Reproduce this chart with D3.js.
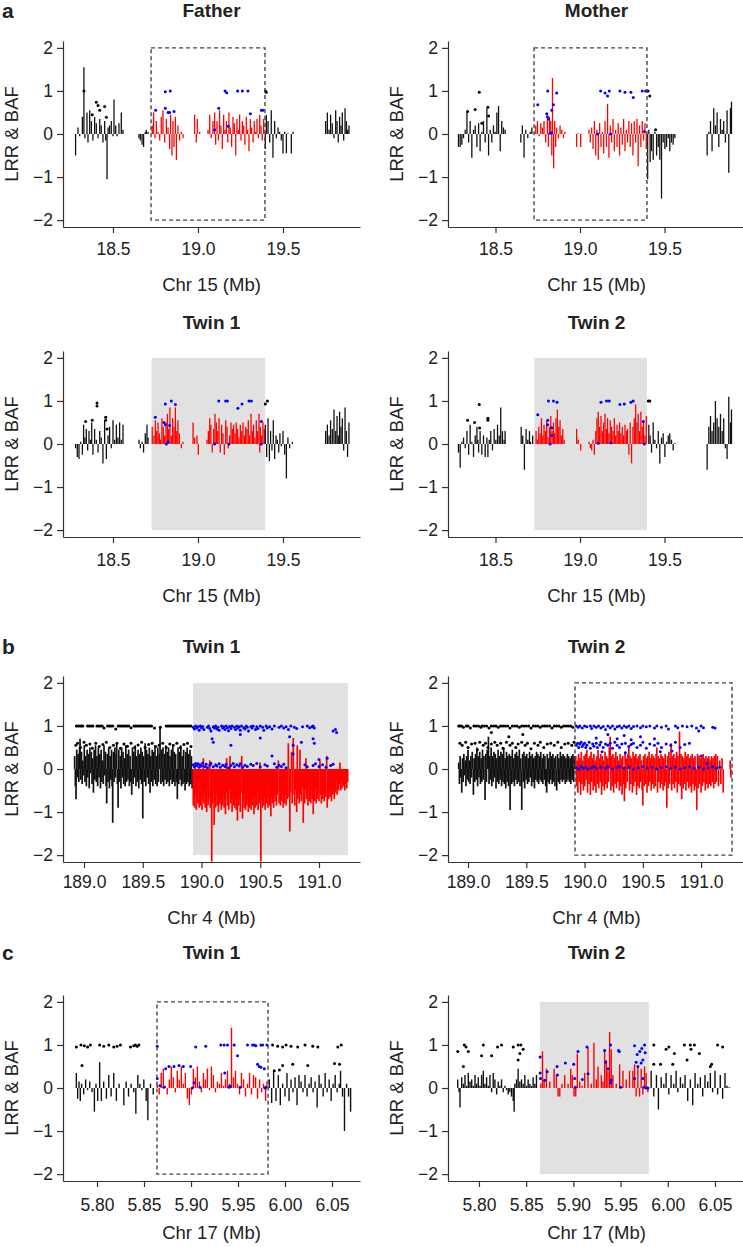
<!DOCTYPE html>
<html>
<head>
<meta charset="UTF-8">
<script src="https://d3js.org/d3.v7.min.js"></script>
<style>
  body { margin: 0; background: #fff; }
  svg text { font-family: "Liberation Sans", Arial, Helvetica, sans-serif; fill: #222; }
</style>
</head>
<body>
<svg width="743" height="1247"></svg>
<script>
// ---- data: [position (Mb), value] ----
const yTicks = [-2, -1, 0, 1, 2];
const ticksChr15 = [18.5, 19.0, 19.5];
const ticksChr4 = [189.0, 189.5, 190.0, 190.5, 191.0];
const ticksChr17 = [5.80, 5.85, 5.90, 5.95, 6.00, 6.05];

// highlighted regions (Mb)
const regionFather = [18.724, 19.394];
const regionMother = [18.728, 19.396];
const regionTwin1a = [18.727, 19.395];
const regionTwin2a = [18.729, 19.396];
const regionTwin1b = [189.928, 191.247];
const regionTwin2b = [189.918, 191.266];
const regionTwin1c = [5.8638, 5.982];
const regionTwin2c = [5.8646, 5.980];

const fatherLrr = [
[18.280,-0.5],[18.294,0.15],[18.304,-0.05],[18.320,0.4],[18.329,1.55],[18.335,-0.1],[18.347,0.5],[18.353,-0.2],[18.363,0.55],[18.373,0.3],[18.382,-0.15],[18.392,0.4],[18.402,0.25],[18.412,-0.1],[18.422,0.35],[18.431,0.2],[18.441,-0.2],[18.451,0.3],[18.457,-0.15],[18.465,-1.05],[18.471,0.15],[18.480,0.2],[18.490,0.3],[18.500,-0.05],[18.506,0.8],[18.516,0.2],[18.524,-0.05],[18.535,0.25],[18.549,0.5],[18.559,0.1],
[18.653,-0.1],[18.661,-0.15],[18.671,-0.25],[18.680,-0.3],[18.690,0.05],[18.696,0.1],[18.706,0.05],
[18.731,0.2],[18.739,0.5],[18.747,-0.1],[18.755,0.3],[18.765,0.05],[18.775,-0.15],[18.784,0.4],[18.794,0.55],[18.804,-0.2],[18.814,0.35],[18.824,0.15],[18.833,-0.35],[18.839,0.45],[18.847,-0.5],[18.853,0.3],[18.859,-0.3],[18.867,0.4],[18.873,-0.6],[18.882,0.2],[18.892,-0.15],[18.902,0.05],[18.912,-0.1],
[18.980,0.45],[18.990,-0.2],[18.996,0.35],[19.010,0.05],
[19.059,0.1],[19.069,0.45],[19.078,-0.1],[19.088,0.3],[19.098,0.5],[19.104,-0.25],
[19.112,0.3],[19.120,-0.15],[19.127,0.55],[19.135,0.2],[19.143,-0.35],[19.151,0.45],[19.159,0.1],[19.167,0.3],[19.175,-0.2],[19.182,0.5],[19.190,0.15],[19.198,-0.3],[19.206,0.4],[19.214,0.25],[19.222,-0.5],[19.229,0.35],[19.237,0.1],[19.245,0.45],[19.253,-0.15],[19.261,0.3],[19.269,0.2],[19.276,-0.25],[19.284,0.4],[19.292,0.1],[19.300,-0.4],[19.308,0.35],[19.316,0.15],[19.324,-0.2],[19.331,0.3],[19.339,0.05],[19.347,0.35],[19.355,-0.1],[19.363,0.45],[19.371,0.2],[19.378,-0.15],[19.386,0.35],
[19.396,-0.35],[19.402,0.45],[19.412,0.3],[19.422,-0.2],[19.431,0.55],[19.441,-0.55],[19.451,0.3],[19.461,-0.1],[19.471,0.15],[19.480,0.05],[19.490,-0.15],[19.500,-0.45],[19.510,0.05],[19.520,-0.45],[19.529,0.02],[19.549,-0.45],[19.559,0.05],
[19.751,0.3],[19.761,0.5],[19.771,0.1],[19.780,0.45],[19.790,0.25],[19.800,-0.1],[19.810,0.55],[19.818,0.3],[19.825,-0.2],[19.833,0.4],[19.841,0.2],[19.849,0.5],[19.857,-0.15],[19.865,0.6],[19.873,0.3],[19.880,0.1],[19.888,0.2]
];
const fatherBaf = [
[18.329,1.0],[18.402,0.74],[18.412,0.66],[18.422,0.55],[18.451,0.64],[18.461,0.39],[18.378,0.45],
[18.751,0.55],[18.808,0.98],[18.837,1.0],[18.808,0.6],[18.824,0.5],[18.833,0.5],[18.859,0.52],[19.098,0.1],[19.122,0.6],[19.159,1.0],[19.169,0.96],[19.178,0.18],[19.233,1.0],[19.261,1.0],[19.294,1.0],[19.308,0.47],[19.373,0.55],[19.382,0.55],
[19.396,1.0],[19.402,0.97]
];

const motherLrr = [
[18.281,-0.3],[18.291,-0.3],[18.301,-0.25],[18.311,-0.1],[18.321,0.1],[18.331,0.5],[18.341,-0.2],[18.350,0.3],[18.360,-0.55],[18.370,0.1],[18.380,0.2],[18.390,-0.3],[18.400,0.25],[18.409,-0.4],[18.419,0.05],[18.429,0.3],[18.439,-0.2],[18.449,0.6],[18.459,-0.5],[18.469,0.1],[18.478,-0.2],[18.488,0.2],[18.498,0.05],[18.508,0.5],[18.518,0.65],[18.528,-0.4],[18.537,0.3],[18.547,0.15],[18.557,0.1],
[18.650,-0.2],[18.659,0.2],[18.669,-0.55],[18.679,0.1],[18.691,-0.1],[18.705,0.05],[18.715,0.15],
[18.738,0.2],[18.748,0.3],[18.758,-0.05],[18.768,0.25],[18.778,0.15],[18.787,0.3],[18.797,-0.2],[18.807,0.35],[18.813,-0.3],[18.819,0.4],[18.827,0.3],[18.833,-0.5],[18.837,1.3],[18.844,-0.8],[18.850,0.3],[18.856,-0.3],[18.862,0.15],[18.872,-0.1],[18.882,0.2],[18.892,0.1],[18.902,-0.1],[18.911,0.05],
[18.980,-0.3],[18.990,0.02],[19.004,-0.3],
[19.053,0.1],[19.061,-0.2],[19.069,0.15],[19.077,-0.35],[19.085,0.3],[19.093,-0.5],[19.100,0.1],[19.108,-0.6],[19.116,0.25],[19.124,-0.3],[19.132,0.05],[19.140,-0.45],[19.148,0.3],[19.156,-0.3],[19.163,0.7],[19.171,-0.55],[19.179,0.2],[19.187,-0.2],[19.195,0.35],[19.203,-0.4],[19.211,0.1],[19.219,-0.3],[19.226,0.25],[19.234,-0.5],[19.242,0.15],[19.250,-0.25],[19.258,0.35],[19.266,-0.4],[19.274,0.1],[19.281,-0.2],[19.289,0.3],[19.297,-0.3],[19.305,0.25],[19.313,-0.5],[19.321,0.3],[19.329,-0.2],[19.337,0.35],[19.344,-0.75],[19.352,0.2],[19.360,-0.3],[19.368,0.3],[19.376,-0.15],[19.384,0.25],[19.392,-0.35],
[19.400,-1.05],[19.407,0.1],[19.415,-0.65],[19.423,-0.4],[19.433,-0.6],[19.443,0.05],[19.453,-0.5],[19.463,-0.3],[19.472,-0.6],[19.482,-1.5],[19.492,-0.2],[19.502,-0.35],[19.512,-0.3],[19.522,-0.1],[19.531,-0.4],[19.541,-0.2],[19.551,-0.25],[19.561,-0.1],
[19.752,-0.5],[19.762,0.05],[19.772,0.3],[19.781,-0.4],[19.791,0.6],[19.801,0.2],[19.811,0.5],[19.821,-0.3],[19.831,0.35],[19.841,0.1],[19.850,0.3],[19.860,-0.2],[19.870,0.55],[19.880,-0.9],[19.890,0.6],[19.896,0.75]
];
const motherBaf = [
[18.335,0.52],[18.380,0.57],[18.404,0.97],[18.419,0.25],[18.455,0.62],[18.459,0.42],
[18.750,0.68],[18.809,1.0],[18.803,0.47],[18.807,0.4],[18.813,0.35],[18.833,0.55],[18.843,0.68],[18.823,0.02],[18.833,0.03],[18.862,0.95],[19.104,0.0],[19.122,1.0],[19.148,0.95],[19.163,0.88],[19.173,1.0],[19.181,0.0],[19.236,1.0],[19.266,0.97],[19.301,0.97],[19.315,0.85],[19.368,1.0],[19.380,0.06],[19.388,1.0],
[19.402,1.0],[19.413,0.88],[19.447,0.1]
];

const twin1aLrr = [
[18.280,-0.1],[18.290,-0.3],[18.300,-0.35],[18.310,0.05],[18.320,-0.25],[18.327,0.45],[18.335,0.15],[18.343,0.35],[18.351,-0.15],[18.359,0.3],[18.367,0.1],[18.375,0.5],[18.382,-0.25],[18.392,0.35],[18.402,0.1],[18.412,-0.2],[18.422,0.3],[18.431,0.15],[18.441,-0.45],[18.451,0.55],[18.461,-0.35],[18.471,0.2],[18.480,0.4],[18.490,-0.1],[18.500,0.55],[18.510,0.1],[18.520,0.45],[18.529,0.15],[18.539,0.5],[18.549,0.1],[18.559,0.45],
[18.653,0.1],[18.661,-0.1],[18.671,0.05],[18.680,-0.2],[18.690,0.25],[18.700,0.45],[18.706,0.15],
[18.731,0.4],[18.741,0.2],[18.749,0.55],[18.757,0.3],[18.765,0.5],[18.773,0.25],[18.780,0.1],[18.788,0.6],[18.796,0.4],[18.804,0.2],[18.812,0.5],[18.820,0.7],[18.827,0.35],[18.835,0.85],[18.843,0.2],[18.851,0.6],[18.859,0.4],[18.867,0.85],[18.875,0.3],[18.882,0.55],[18.890,0.25],[18.902,-0.1],[18.912,0.05],
[18.971,0.5],[18.980,0.15],[18.994,0.2],[19.002,-0.25],
[19.053,0.1],[19.061,0.3],[19.069,0.6],[19.076,0.45],[19.084,-0.2],[19.092,0.35],[19.100,0.7],[19.108,0.5],[19.116,0.3],[19.124,0.6],[19.131,-0.2],[19.139,0.45],[19.147,0.25],[19.155,-0.25],[19.163,0.55],[19.171,0.4],[19.178,-0.1],[19.186,0.2],[19.194,0.5],[19.202,0.35],[19.210,0.45],[19.218,0.25],[19.225,0.5],[19.233,0.35],[19.241,0.15],[19.249,0.45],[19.257,0.3],[19.265,0.5],[19.273,0.2],[19.280,0.4],[19.288,0.35],[19.296,0.55],[19.304,0.2],[19.312,0.7],[19.320,0.3],[19.327,0.45],[19.335,0.15],[19.343,0.55],[19.351,0.3],[19.359,0.7],[19.363,-0.2],[19.367,0.4],[19.374,0.2],[19.382,0.5],[19.390,0.35],
[19.396,0.45],[19.404,-0.3],[19.412,0.6],[19.420,-0.4],[19.427,0.3],[19.435,-0.15],[19.443,0.55],[19.451,-0.35],[19.459,0.2],[19.467,0.1],[19.475,-0.2],[19.482,0.25],[19.490,-0.05],[19.500,0.3],[19.510,-0.25],[19.520,-0.8],[19.529,0.15],[19.539,-0.1],[19.555,0.05],
[19.751,0.3],[19.761,0.45],[19.771,0.2],[19.780,0.55],[19.790,0.35],[19.800,0.8],[19.810,0.3],[19.818,0.65],[19.825,0.2],[19.833,0.75],[19.841,0.4],[19.849,0.6],[19.857,-0.15],[19.865,0.85],[19.873,0.3],[19.880,-0.3],[19.888,0.5]
];
const twin1aBaf = [
[18.406,0.95],[18.406,0.88],[18.339,0.52],[18.378,0.55],[18.457,0.62],[18.457,0.55],[18.465,0.35],
[18.749,0.62],[18.808,0.93],[18.800,0.5],[18.808,0.45],[18.833,0.43],[18.843,1.0],[18.867,0.92],[18.824,0.05],[18.814,0.0],[19.098,0.0],[19.122,1.0],[19.163,1.0],[19.173,1.0],[19.182,0.0],[19.235,0.83],[19.259,0.93],[19.300,1.0],[19.314,1.0],[19.373,0.52],[19.373,0.0],
[19.396,0.93],[19.408,1.0]
];

const twin2aLrr = [
[18.281,-0.2],[18.291,-0.55],[18.301,0.05],[18.311,0.15],[18.321,-0.1],[18.331,0.3],[18.341,-0.25],[18.350,0.45],[18.360,0.05],[18.370,-0.3],[18.380,0.2],[18.390,0.4],[18.396,0.1],[18.400,-0.2],[18.409,0.3],[18.419,-0.25],[18.429,0.2],[18.439,-0.3],[18.449,0.15],[18.455,-0.3],[18.463,0.1],[18.472,0.3],[18.482,-0.15],[18.492,0.35],[18.502,0.1],[18.512,0.45],[18.522,0.2],[18.531,0.85],[18.541,0.3],[18.551,0.1],[18.557,0.3],
[18.652,0.4],[18.661,0.2],[18.671,-0.6],[18.681,0.35],[18.691,0.1],[18.701,0.3],[18.707,0.05],[18.720,0.2],
[18.740,0.3],[18.748,0.1],[18.756,0.4],[18.764,0.25],[18.772,0.6],[18.780,0.2],[18.787,0.45],[18.795,0.3],[18.803,0.55],[18.811,0.15],[18.819,0.4],[18.827,0.65],[18.835,0.3],[18.843,0.5],[18.850,0.25],[18.858,0.6],[18.866,0.8],[18.874,0.4],[18.882,0.55],[18.890,0.2],[18.898,0.35],[18.906,0.1],
[18.980,0.35],[18.990,0.1],[19.004,-0.15],
[19.053,0.05],[19.061,-0.1],[19.069,-0.15],[19.077,0.1],[19.085,-0.25],[19.093,0.3],[19.100,0.6],[19.108,0.75],[19.116,0.4],[19.124,0.65],[19.132,0.3],[19.140,0.5],[19.148,0.7],[19.156,0.35],[19.163,0.6],[19.171,0.25],[19.179,0.55],[19.187,0.4],[19.195,0.3],[19.203,0.6],[19.211,0.2],[19.219,0.45],[19.226,0.3],[19.234,0.5],[19.242,0.25],[19.250,0.4],[19.258,0.2],[19.266,0.45],[19.274,0.3],[19.281,0.35],[19.289,-0.25],[19.297,0.5],[19.305,-0.45],[19.313,0.4],[19.321,0.6],[19.329,0.92],[19.337,0.5],[19.344,0.7],[19.352,0.3],[19.360,0.75],[19.368,0.4],[19.376,0.55],[19.384,0.2],[19.392,0.65],
[19.407,0.45],[19.415,0.2],[19.423,-0.2],[19.433,0.5],[19.443,0.1],[19.453,-0.1],[19.463,0.3],[19.472,-0.45],[19.482,0.15],[19.492,0.25],[19.502,-0.3],[19.512,0.05],[19.522,0.2],[19.531,0.25],[19.541,0.1],[19.551,-0.15],[19.561,0.02],
[19.752,-0.6],[19.762,0.4],[19.772,0.65],[19.781,0.3],[19.791,0.5],[19.801,1.0],[19.811,0.6],[19.821,0.4],[19.831,0.7],[19.841,0.3],[19.850,0.6],[19.860,-0.1],[19.870,-0.35],[19.880,1.1],[19.890,0.5],[19.896,0.8]
];
const twin2aBaf = [
[18.335,0.55],[18.376,0.5],[18.404,0.92],[18.406,0.37],[18.455,0.6],[18.455,0.55],
[18.750,0.68],[18.813,1.0],[18.843,1.0],[18.864,0.97],[18.809,0.55],[18.809,0.45],[18.833,0.38],[18.833,0.2],[18.823,0.0],[19.108,0.02],[19.124,0.97],[19.157,1.0],[19.173,1.0],[19.183,0.03],[19.236,0.92],[19.262,0.93],[19.301,0.97],[19.315,1.0],[19.374,0.52],[19.380,0.0],
[19.404,1.0],[19.413,1.0]
];

const twin1bLrr = [
[188.920,0.3],[188.926,-0.4],[188.932,-0.7],[188.938,0.45],[188.944,-0.2],[188.950,0.35],[188.956,-0.3],[188.962,0.5],[188.966,0.7],[188.972,-0.25],[188.978,0.4],[188.984,-0.35],[188.990,0.2],[188.996,-0.15],[189.002,0.55],[189.008,-0.3],[189.014,0.3],[189.020,-0.4],[189.026,0.45],[189.032,-0.2],[189.038,0.35],[189.044,-0.45],[189.050,0.5],[189.056,-0.1],[189.062,0.4],[189.068,-0.35],[189.074,0.25],[189.080,-0.55],[189.086,0.45],[189.092,-0.25],[189.098,0.55],[189.104,-0.3],[189.110,0.3],[189.116,-0.4],[189.122,0.5],[189.128,-0.2],[189.134,0.35],[189.140,-0.45],[189.146,0.45],[189.152,-0.3],[189.158,0.2],[189.164,-0.35],[189.170,0.55],[189.176,-0.15],[189.182,0.4],[189.188,-0.4],[189.193,-0.8],[189.198,0.35],[189.204,-0.3],[189.210,0.5],[189.216,-0.45],[189.222,0.3],[189.228,-0.25],[189.234,0.45],[189.239,-0.4],[189.244,-1.25],[189.250,0.4],[189.256,-0.3],[189.262,0.5],[189.268,-0.2],[189.273,0.35],[189.278,0.6],[189.284,-0.35],[189.290,-0.9],[189.296,0.45],[189.302,-0.3],[189.308,0.3],[189.314,-0.45],[189.320,0.5],[189.326,-0.2],[189.332,0.4],[189.338,-0.35],[189.344,0.25],[189.350,-0.4],[189.356,0.55],[189.362,-0.3],[189.368,0.35],[189.374,-0.25],[189.380,0.45],[189.386,-0.4],[189.392,0.3],[189.398,-0.3],[189.406,-0.6],[189.412,0.5],[189.418,-0.35],[189.424,0.4],[189.430,-0.2],[189.436,0.55],[189.442,-0.4],[189.448,0.3],[189.454,-0.3],[189.460,0.45],[189.466,-0.45],[189.472,0.35],[189.478,-0.25],[189.484,0.5],[189.490,-0.35],[189.495,0.4],[189.500,-1.15],[189.506,0.3],[189.512,-0.3],[189.520,0.6],[189.526,-0.4],[189.532,0.45],[189.538,-0.2],[189.544,0.35],[189.550,-0.35],[189.556,0.5],[189.562,-0.55],[189.568,0.3],[189.574,-0.3],[189.580,0.45],[189.586,-0.4],[189.592,0.4],[189.598,-0.25],[189.604,0.55],[189.610,-0.35],[189.616,0.3],[189.622,-0.4],[189.628,0.5],[189.634,-0.3],[189.640,0.35],[189.647,0.98],[189.654,-0.35],[189.660,0.45],[189.666,-0.3],[189.672,0.5],[189.678,-0.4],[189.684,0.35],[189.690,-0.25],[189.696,0.55],[189.702,-0.35],[189.708,0.4],[189.714,-0.3],[189.720,0.5],[189.726,-0.4],[189.732,0.3],[189.738,-0.25],[189.744,0.45],[189.750,-0.35],[189.756,0.55],[189.762,-0.3],[189.768,0.4],[189.774,-0.4],[189.780,0.35],[189.786,-0.3],[189.794,-0.7],[189.800,0.5],[189.806,-0.35],[189.812,0.4],[189.818,-0.25],[189.824,0.55],[189.830,-0.4],[189.836,0.3],[189.842,-0.35],[189.848,0.45],[189.854,-0.3],[189.860,-0.5],[189.866,0.4],[189.872,-0.35],[189.878,0.5],[189.884,-0.3],[189.890,0.35],[189.896,-0.4],[189.902,0.45],[189.908,-0.35],[189.914,0.3],[189.920,-0.45],
[189.930,-0.85],[189.936,-0.4],[189.942,-0.9],[189.945,0.1],[189.950,-0.6],[189.956,-0.95],[189.962,-0.5],[189.968,-0.8],[189.974,-0.3],[189.980,-0.9],[189.986,-0.65],[189.992,-0.85],[189.998,-0.45],[190.004,-0.95],[190.010,-0.7],[190.016,0.25],[190.020,-0.8],[190.026,-0.55],[190.032,-0.9],[190.038,-0.6],[190.044,-1.0],[190.050,-0.5],[190.056,-0.85],[190.062,-0.7],[190.070,0.2],[190.074,-0.9],[190.080,-0.6],[190.087,-2.15],[190.094,-0.8],[190.100,-0.5],[190.107,-1.3],[190.114,-0.75],[190.120,-0.9],[190.126,-0.55],[190.132,-0.85],[190.138,-0.65],[190.144,-1.0],[190.150,-0.5],[190.156,-0.8],[190.162,-0.7],[190.168,-0.95],[190.174,-0.45],[190.180,-0.85],[190.186,-0.6],[190.192,-0.9],[190.198,-0.7],[190.204,-1.05],[190.210,-0.55],[190.214,0.25],[190.220,-0.85],[190.226,-0.65],[190.232,-0.95],[190.238,-0.5],[190.243,0.3],[190.248,-0.8],[190.254,-0.7],[190.260,-1.0],[190.266,-0.6],[190.272,-0.85],[190.278,-0.5],[190.284,-0.9],[190.290,-0.7],[190.296,-0.95],[190.306,-1.2],[190.312,-0.6],[190.318,-0.85],[190.324,-0.7],[190.330,-1.0],[190.336,-0.55],[190.342,0.3],[190.349,-1.15],[190.356,-0.75],[190.362,-0.9],[190.368,-0.6],[190.374,-0.95],[190.380,-0.5],[190.386,-0.85],[190.392,-0.7],[190.398,-1.0],[190.404,-0.6],[190.410,-0.9],[190.416,-0.75],[190.422,-0.95],[190.428,-0.55],[190.434,-0.85],[190.440,-0.65],[190.446,-1.05],[190.452,-0.6],[190.458,-0.9],[190.464,-0.7],[190.470,-0.85],[190.476,-0.5],[190.482,-0.95],[190.488,-0.65],[190.494,-0.8],[190.498,0.15],[190.505,-2.15],[190.512,-0.7],[190.518,-0.9],[190.524,-0.55],[190.530,-0.85],[190.536,-0.65],[190.542,-0.95],[190.548,-0.5],[190.554,-0.8],[190.560,-0.7],[190.566,-0.9],[190.572,-0.45],[190.578,-0.85],[190.584,-0.6],[190.590,-1.1],[190.596,-0.65],[190.602,-0.8],[190.608,-0.5],[190.614,-0.9],[190.620,-0.6],[190.626,-0.75],[190.632,-0.45],[190.638,-0.85],[190.644,-0.6],[190.654,0.2],[190.660,-0.8],[190.666,-0.55],[190.672,-0.85],[190.678,-0.5],[190.684,-0.75],[190.690,-0.6],[190.696,-0.9],[190.702,-0.45],[190.708,-0.8],[190.714,-0.6],[190.720,-0.85],[190.726,-0.5],[190.732,-0.7],[190.739,0.6],[190.745,-0.65],[190.752,-1.45],[190.758,-0.55],[190.767,0.4],[190.772,-0.8],[190.781,0.72],[190.788,-0.6],[190.794,-0.85],[190.800,-0.5],[190.810,-1.0],[190.815,0.55],[190.820,-0.7],[190.826,-0.5],[190.832,-0.8],[190.838,0.45],[190.844,-0.6],[190.850,-0.75],[190.856,-0.45],[190.866,-1.25],[190.872,-0.6],[190.878,-0.8],[190.884,-0.5],[190.889,0.25],[190.894,-0.7],[190.900,-0.55],[190.906,-0.85],[190.912,-0.45],[190.918,-0.75],[190.924,-0.6],[190.930,-0.8],[190.936,-0.5],[190.942,-0.7],[190.951,-1.05],[190.958,-0.55],[190.964,-0.75],[190.970,-0.45],[190.976,-0.8],[190.982,-0.6],[190.988,-0.7],[190.994,-0.5],[191.000,-0.75],[191.008,0.2],[191.014,-0.6],[191.020,-0.8],[191.026,-0.45],[191.032,-0.7],[191.038,-0.55],[191.044,-0.75],[191.050,-0.4],[191.056,-0.65],[191.065,0.3],[191.070,-0.9],[191.076,-0.5],[191.082,-0.7],[191.088,-0.45],[191.094,-0.65],[191.100,-0.55],[191.106,-0.75],[191.112,-0.4],[191.118,-0.6],[191.124,-0.5],[191.130,-0.7],[191.136,-0.4],[191.142,-0.55],[191.148,-0.3],[191.154,-0.6],[191.160,-0.45],[191.166,-0.5],[191.172,-0.35],[191.178,0.15],[191.184,-0.5],[191.190,-0.3],[191.196,-0.45],[191.202,-0.25],[191.208,-0.4],[191.214,-0.3],[191.220,-0.5],[191.228,-0.35],[191.236,-0.45],[191.244,-0.3]
];
const twin1bBaf = [
[188.935,1.0],[188.950,1.0],[188.965,1.0],[188.980,1.0],[188.990,1.0],[189.030,1.0],[189.045,1.0],[189.060,1.0],[189.075,1.0],[189.110,1.0],[189.125,1.0],[189.140,1.0],[189.155,1.0],[189.200,1.0],[189.215,1.0],[189.230,1.0],[189.245,1.0],[189.290,1.0],[189.305,1.0],[189.320,1.0],[189.335,1.0],[189.350,1.0],[189.365,1.0],[189.380,1.0],[189.425,1.0],[189.440,1.0],[189.455,1.0],[189.470,1.0],[189.485,1.0],[189.500,1.0],[189.515,1.0],[189.530,1.0],[189.545,1.0],[189.560,1.0],[189.575,1.0],[189.700,1.0],[189.715,1.0],[189.730,1.0],[189.745,1.0],[189.760,1.0],[189.775,1.0],[189.790,1.0],[189.805,1.0],[189.820,1.0],[189.835,1.0],[189.850,1.0],[189.865,1.0],[189.880,1.0],[189.895,1.0],[189.910,1.0],
[189.170,0.95],[189.270,0.93],[189.400,0.96],[189.600,0.95],[189.650,0.97],
[188.930,0.55],[188.945,0.6],[188.970,0.5],[189.000,0.62],[189.020,0.55],[189.050,0.58],[189.070,0.48],[189.100,0.6],[189.130,0.52],[189.160,0.57],[189.190,0.62],[189.220,0.5],[189.250,0.55],[189.280,0.6],[189.310,0.48],[189.340,0.58],[189.370,0.53],[189.400,0.6],[189.430,0.5],[189.460,0.56],[189.490,0.62],[189.520,0.5],[189.550,0.57],[189.580,0.6],[189.610,0.52],[189.640,0.55],[189.670,0.6],[189.700,0.5],[189.730,0.58],[189.760,0.55],[189.790,0.6],[189.820,0.5],[189.850,0.57],[189.880,0.6],[189.910,0.52],
[189.930,0.97],[189.940,0.93],[189.950,1.0],[189.960,0.95],[189.970,0.98],[189.980,0.9],[189.990,1.0],[190.000,0.96],[190.010,0.99],[190.020,0.92],[190.050,0.97],[190.060,1.0],[190.070,0.94],[190.080,0.88],[190.100,0.98],[190.110,0.95],[190.120,1.0],[190.130,0.93],[190.140,0.97],[190.150,0.9],[190.170,1.0],[190.180,0.95],[190.190,0.98],[190.200,0.92],[190.210,1.0],[190.220,0.96],[190.230,0.89],[190.240,0.99],[190.250,0.94],[190.260,1.0],[190.280,0.97],[190.290,0.92],[190.300,1.0],[190.310,0.95],[190.320,0.98],[190.330,0.9],[190.340,1.0],[190.360,0.96],[190.370,0.93],[190.380,1.0],[190.390,0.97],[190.400,0.88],[190.420,0.99],[190.430,0.95],[190.440,1.0],[190.460,0.92],[190.470,0.98],[190.480,0.94],[190.500,1.0],[190.520,0.97],[190.530,0.9],[190.550,1.0],[190.560,0.95],[190.580,0.98],[190.600,0.93],[190.620,1.0],[190.660,0.97],[190.680,1.0],[190.700,0.95],[190.720,0.98],[190.740,0.92],[190.760,1.0],[190.790,0.97],[190.810,0.94],[190.860,0.98],[190.900,1.0],[190.920,0.96],[190.940,0.98],[190.950,1.0],[190.960,0.95],[191.120,0.88],[191.140,0.92],[191.150,0.85],
[190.090,0.7],[190.100,0.62],[190.250,0.55],[190.330,0.8],[190.500,0.72],[190.600,0.3],[190.750,0.75],[190.780,0.55],[190.850,0.62],[190.950,0.7],[190.960,0.6],[190.780,0.35],[191.000,0.22],[191.070,0.25],
[189.930,0.1],[189.940,0.05],[189.950,0.13],[189.960,0.08],[189.970,0.12],[189.980,0.04],[189.990,0.1],[190.000,0.07],[190.010,0.14],[190.030,0.06],[190.040,0.11],[190.050,0.03],[190.070,0.09],[190.080,0.13],[190.100,0.05],[190.120,0.1],[190.130,0.07],[190.150,0.12],[190.160,0.04],[190.180,0.09],[190.200,0.06],[190.210,0.11],[190.230,0.03],[190.250,0.08],[190.270,0.13],[190.280,0.05],[190.300,0.1],[190.320,0.07],[190.330,0.12],[190.350,0.04],[190.370,0.09],[190.390,0.06],[190.420,0.11],[190.440,0.08],[190.470,0.13],[190.500,0.05],[190.540,0.1],[190.560,0.07],[190.620,0.12],[190.640,0.04],[190.660,0.09],[190.680,0.06],[190.700,0.11],[190.720,0.03],[190.880,0.1],[190.900,0.05],[190.950,0.08],[190.970,0.12],[191.000,0.06],[191.030,0.1],[191.060,0.04],[191.100,0.08],[191.120,0.11]
];

const twin2bLrr = [
[188.920,0.15],[188.926,-0.35],[188.932,0.3],[188.938,-0.2],[188.946,-0.55],[188.952,0.25],[188.958,-0.3],[188.964,0.35],[188.970,-0.15],[188.976,0.2],[188.982,-0.4],[188.988,0.3],[188.994,-0.25],[189.000,0.45],[189.006,-0.3],[189.012,0.2],[189.018,-0.35],[189.024,0.3],[189.030,-0.2],[189.036,0.4],[189.046,-0.6],[189.052,0.25],[189.058,-0.3],[189.064,0.35],[189.070,-0.25],[189.076,0.5],[189.082,-0.4],[189.088,0.3],[189.094,-0.2],[189.100,0.4],[189.106,-0.35],[189.112,0.25],[189.118,-0.3],[189.124,0.45],[189.130,-0.25],[189.136,0.3],[189.146,-0.72],[189.152,0.35],[189.158,-0.3],[189.164,0.45],[189.175,0.75],[189.180,-0.35],[189.186,0.3],[189.192,-0.25],[189.198,0.5],[189.204,-0.4],[189.210,0.3],[189.216,-0.3],[189.222,0.4],[189.228,-0.2],[189.234,0.35],[189.240,-0.45],[189.246,0.25],[189.252,-0.3],[189.258,0.45],[189.264,-0.35],[189.270,0.3],[189.276,-0.25],[189.282,0.4],[189.288,-0.4],[189.294,0.35],[189.300,-0.3],[189.306,0.5],[189.312,-0.35],[189.318,0.25],[189.324,-0.45],[189.330,0.4],[189.336,-0.3],[189.342,0.3],[189.348,-0.4],[189.354,0.35],[189.361,-0.95],[189.368,0.3],[189.374,-0.35],[189.380,0.45],[189.386,-0.3],[189.392,0.25],[189.398,-0.4],[189.404,0.35],[189.410,-0.25],[189.416,0.4],[189.422,-0.35],[189.428,0.3],[189.434,-0.3],[189.440,0.45],[189.446,-0.4],[189.452,0.25],[189.461,-0.95],[189.468,0.35],[189.474,-0.3],[189.480,0.4],[189.486,-0.45],[189.492,0.3],[189.498,-0.25],[189.504,0.35],[189.510,-0.35],[189.516,0.25],[189.522,-0.3],[189.528,0.4],[189.534,-0.2],[189.540,0.3],[189.546,-0.4],[189.552,0.35],[189.558,-0.3],[189.564,0.25],[189.570,-0.45],[189.576,0.3],[189.582,-0.25],[189.588,0.4],[189.594,-0.3],[189.600,0.35],[189.606,-0.35],[189.612,0.3],[189.618,-0.25],[189.624,0.4],[189.630,-0.3],[189.636,0.25],[189.642,-0.35],[189.648,0.35],[189.654,-0.25],[189.660,0.3],[189.666,-0.4],[189.675,-0.55],[189.680,0.35],[189.686,-0.3],[189.692,0.25],[189.698,-0.35],[189.704,0.4],[189.710,-0.25],[189.716,0.3],[189.722,-0.35],[189.728,0.35],[189.734,-0.3],[189.740,0.25],[189.746,-0.4],[189.752,0.3],[189.761,-0.5],[189.768,0.35],[189.774,-0.3],[189.780,0.25],[189.786,-0.35],[189.792,0.4],[189.798,-0.25],[189.804,0.3],[189.810,-0.3],[189.816,0.35],[189.822,-0.25],[189.828,0.3],[189.834,-0.35],[189.840,0.25],[189.846,-0.3],[189.852,0.35],[189.858,-0.25],[189.864,0.3],[189.870,-0.3],[189.876,0.25],[189.882,-0.35],[189.888,0.3],[189.894,-0.25],[189.900,0.35],[189.906,-0.3],[189.912,0.3],
[189.925,0.3],[189.930,-0.4],[189.936,0.2],[189.942,-0.55],[189.948,0.35],[189.954,-0.3],[189.960,0.25],[189.966,-0.6],[189.972,0.4],[189.978,-0.35],[189.984,0.2],[189.990,-0.5],[189.996,0.3],[190.002,-0.4],[190.008,0.35],[190.014,-0.25],[190.020,0.45],[190.026,-0.55],[190.032,0.25],[190.038,-0.35],[190.044,0.3],[190.050,-0.6],[190.056,0.4],[190.062,-0.3],[190.068,0.25],[190.074,-0.5],[190.080,0.35],[190.086,-0.4],[190.092,0.2],[190.098,-0.55],[190.104,0.3],[190.110,-0.35],[190.116,0.45],[190.122,-0.45],[190.128,0.25],[190.134,-0.3],[190.140,0.35],[190.146,-0.6],[190.152,0.3],[190.158,-0.4],[190.164,0.2],[190.170,-0.5],[190.176,0.4],[190.182,-0.35],[190.188,0.3],[190.194,-0.45],[190.200,0.25],[190.206,-0.3],[190.212,0.5],[190.220,0.75],[190.226,-0.5],[190.232,0.3],[190.238,-0.4],[190.244,0.35],[190.250,-0.55],[190.256,0.25],[190.262,-0.35],[190.268,0.4],[190.274,-0.45],[190.280,0.3],[190.286,-0.3],[190.292,0.2],[190.298,-0.5],[190.304,0.35],[190.310,-0.4],[190.316,0.25],[190.322,-0.6],[190.328,0.3],[190.334,-0.35],[190.342,-0.75],[190.348,0.4],[190.354,-0.45],[190.360,0.25],[190.366,-0.3],[190.372,0.35],[190.380,0.55],[190.386,-0.5],[190.392,0.3],[190.398,-0.35],[190.404,0.25],[190.410,-0.55],[190.416,0.4],[190.422,-0.4],[190.428,0.3],[190.434,-0.3],[190.440,0.35],[190.446,-0.6],[190.452,0.25],[190.458,-0.4],[190.464,0.3],[190.470,-0.45],[190.476,0.35],[190.482,-0.3],[190.488,0.2],[190.494,-0.5],[190.500,-0.85],[190.506,0.3],[190.512,-0.4],[190.518,0.35],[190.524,-0.35],[190.530,0.25],[190.536,-0.55],[190.542,0.3],[190.548,-0.4],[190.554,0.4],[190.560,-0.3],[190.566,0.25],[190.572,-0.5],[190.578,0.35],[190.584,-0.35],[190.590,0.3],[190.596,-0.45],[190.602,0.25],[190.608,-0.4],[190.614,0.35],[190.620,0.5],[190.626,-0.55],[190.632,0.3],[190.638,-0.3],[190.644,0.25],[190.650,-0.45],[190.656,0.35],[190.662,-0.35],[190.668,0.3],[190.674,-0.5],[190.680,0.25],[190.686,-0.4],[190.692,0.35],[190.698,-0.3],[190.706,-0.9],[190.712,0.3],[190.718,-0.45],[190.724,0.4],[190.730,-0.35],[190.736,0.25],[190.742,0.6],[190.748,-0.5],[190.754,0.3],[190.760,-0.35],[190.766,0.35],[190.772,-0.45],[190.778,0.25],[190.784,-0.3],[190.790,0.4],[190.796,-0.55],[190.802,0.3],[190.808,-0.35],[190.815,0.87],[190.822,-0.4],[190.828,0.35],[190.834,-0.7],[190.840,0.3],[190.846,-0.45],[190.852,0.25],[190.858,-0.35],[190.864,0.4],[190.870,-0.5],[190.876,0.3],[190.882,-0.3],[190.888,0.35],[190.894,-0.45],[190.900,0.25],[190.906,-0.4],[190.912,0.3],[190.918,-0.55],[190.924,0.35],[190.930,-0.35],[190.936,0.25],[190.942,-0.5],[190.948,0.3],[190.954,-0.4],[190.963,-0.95],[190.970,0.35],[190.976,-0.45],[190.982,0.3],[190.988,-0.35],[190.994,0.25],[191.000,-0.55],[191.006,0.3],[191.012,-0.4],[191.018,0.35],[191.024,-0.3],[191.030,0.25],[191.036,-0.5],[191.042,0.3],[191.048,-0.35],[191.054,0.25],[191.060,-0.45],[191.066,0.3],[191.072,-0.35],[191.078,0.2],[191.084,-0.4],[191.090,0.3],[191.096,-0.3],[191.102,0.25],[191.108,-0.45],[191.114,0.3],[191.120,-0.35],[191.126,0.35],[191.132,-0.3],[191.140,0.3],[191.150,-0.4],[191.160,0.2],[191.170,-0.35],[191.180,0.25],[191.190,-0.55],[191.250,0.2],[191.255,-0.2]
];
const twin2bBaf = [
[188.920,1.0],[188.930,1.0],[188.945,1.0],[188.960,0.97],[188.985,1.0],[189.000,1.0],[189.020,0.95],[189.050,1.0],[189.070,1.0],[189.090,1.0],[189.110,0.97],[189.120,1.0],[189.140,1.0],[189.160,1.0],[189.180,0.95],[189.200,1.0],[189.220,1.0],[189.240,1.0],[189.260,0.97],[189.280,1.0],[189.300,1.0],[189.320,1.0],[189.340,1.0],[189.360,0.95],[189.380,1.0],[189.400,1.0],[189.420,1.0],[189.440,0.97],[189.460,1.0],[189.480,1.0],[189.500,1.0],[189.520,1.0],[189.540,0.95],[189.560,1.0],[189.580,1.0],[189.600,1.0],[189.620,0.97],[189.640,1.0],[189.660,1.0],[189.680,1.0],[189.700,1.0],[189.720,0.95],[189.740,1.0],[189.760,1.0],[189.780,1.0],[189.800,0.97],[189.820,1.0],[189.840,1.0],[189.860,1.0],[189.880,1.0],[189.900,0.97],
[188.930,0.6],[188.950,0.55],[188.980,0.62],[189.000,0.5],[189.030,0.58],[189.060,0.6],[189.080,0.45],[189.100,0.62],[189.130,0.55],[189.150,0.6],[189.170,0.5],[189.200,0.58],[189.230,0.62],[189.250,0.55],[189.280,0.6],[189.300,0.48],[189.330,0.62],[189.360,0.55],[189.380,0.6],[189.410,0.5],[189.430,0.58],[189.460,0.62],[189.490,0.55],[189.510,0.6],[189.540,0.47],[189.570,0.6],[189.600,0.55],[189.620,0.62],[189.650,0.5],[189.680,0.58],[189.710,0.6],[189.740,0.55],[189.770,0.62],[189.800,0.5],[189.830,0.58],[189.860,0.6],[189.890,0.55],[189.910,0.62],[189.350,0.75],[189.470,0.8],[189.200,0.85],
[189.930,1.0],[189.945,0.97],[189.960,1.0],[189.980,0.95],[190.000,1.0],[190.020,0.98],[190.050,1.0],[190.060,0.94],[190.080,1.0],[190.100,0.97],[190.120,1.0],[190.140,0.95],[190.160,0.99],[190.180,0.92],[190.200,1.0],[190.220,0.96],[190.240,1.0],[190.260,0.93],[190.280,0.98],[190.300,1.0],[190.320,0.95],[190.340,1.0],[190.360,0.97],[190.380,1.0],[190.400,0.94],[190.420,0.99],[190.450,1.0],[190.480,0.96],[190.500,1.0],[190.530,0.98],[190.560,1.0],[190.600,0.95],[190.620,1.0],[190.660,0.97],[190.700,1.0],[190.720,0.93],[190.780,1.0],[190.800,0.96],[190.840,1.0],[190.880,0.98],[190.920,1.0],[190.960,0.95],[190.980,0.88],[191.000,1.0],[191.020,0.96],[191.100,0.97],[191.120,0.95],
[189.930,0.55],[189.940,0.6],[189.950,0.5],[189.960,0.58],[189.970,0.62],[189.980,0.52],[189.990,0.57],[190.000,0.6],[190.010,0.5],[190.020,0.55],[190.040,0.62],[190.050,0.48],[190.070,0.58],[190.080,0.53],[190.100,0.6],[190.110,0.5],[190.130,0.56],[190.140,0.62],[190.160,0.5],[190.180,0.58],[190.200,0.55],[190.220,0.6],[190.240,0.48],[190.260,0.62],[190.280,0.55],[190.300,0.5],[190.320,0.58],[190.350,0.6],[190.380,0.52],[190.400,0.57],[190.420,0.6],[190.450,0.5],[190.480,0.55],[190.500,0.62],[190.530,0.48],[190.560,0.58],[190.600,0.55],[190.630,0.6],[190.660,0.5],[190.700,0.58],[190.740,0.55],[190.780,0.62],[190.820,0.5],[190.860,0.57],[190.900,0.6],
[190.100,0.72],[190.200,0.8],[190.280,0.7],[190.340,0.78],[190.400,0.68],[190.480,0.75],[190.600,0.7],[190.650,0.4],[190.750,0.42],[190.350,0.38],[190.150,0.4],[191.000,0.3],[191.050,0.12],
[189.930,0.03],[189.950,0.0],[189.970,0.05],[189.990,0.02],[190.010,0.04],[190.030,0.0],[190.060,0.03],[190.080,0.05],[190.100,0.01],[190.140,0.04],[190.180,0.02],[190.200,0.05],[190.240,0.0],[190.280,0.03],[190.300,0.05],[190.340,0.02],[190.380,0.04],[190.420,0.0],[190.460,0.03],[190.500,0.05],[190.540,0.02],[190.580,0.04],[190.620,0.0],[190.660,0.03],[190.700,0.05],[190.740,0.02],[190.780,0.04],[190.820,0.0],[190.860,0.03],[190.900,0.05],[190.940,0.02],[190.980,0.04],[191.020,0.0],[191.060,0.03],[191.100,0.05],[191.130,0.02],[191.160,0.04]
];

const twin1cLrr = [
[5.7780,0.35],[5.7794,-0.25],[5.7808,0.15],[5.7822,-0.3],[5.7836,0.1],[5.7858,-0.15],[5.7879,0.2],[5.7900,-0.05],[5.7922,0.15],[5.7947,-0.1],[5.7972,-0.55],[5.7989,0.1],[5.8007,-0.3],[5.8028,0.6],[5.8046,-0.3],[5.8071,0.15],[5.8100,-0.25],[5.8125,0.3],[5.8150,-0.2],[5.8178,0.35],[5.8206,-0.3],[5.8235,0.1],[5.8285,-0.4],[5.8310,0.15],[5.8335,-0.2],[5.8363,0.1],[5.8391,-0.1],[5.8413,-0.6],[5.8434,0.3],[5.8456,0.1],[5.8477,-0.05],[5.8498,0.2],[5.8523,-0.3],[5.8541,-0.75],[5.8569,0.1],[5.8598,-0.15],
[5.8641,0.1],[5.8662,-0.15],[5.8683,0.35],[5.8705,0.45],[5.8726,0.05],[5.8747,-0.15],[5.8769,0.2],[5.8790,0.5],[5.8811,0.25],[5.8833,-0.1],[5.8854,0.4],[5.8875,0.2],[5.8897,0.5],[5.8918,0.1],[5.8940,0.35],[5.8961,-0.25],[5.8982,-0.4],[5.9004,-0.15],[5.9025,0.45],[5.9046,0.25],[5.9068,0.5],[5.9089,0.15],[5.9110,-0.1],[5.9132,0.35],[5.9153,0.2],[5.9174,0.45],[5.9196,-0.05],[5.9217,0.5],[5.9238,0.3],[5.9260,-0.1],[5.9281,0.15],[5.9302,0.1],[5.9324,0.35],[5.9345,0.05],[5.9367,0.2],[5.9388,0.4],[5.9409,0.1],[5.9431,1.4],[5.9452,0.25],[5.9473,0.4],[5.9495,0.1],[5.9516,-0.15],[5.9537,0.35],[5.9559,0.2],[5.9580,-0.2],[5.9601,0.1],[5.9623,0.35],[5.9644,-0.15],[5.9665,0.3],[5.9687,0.25],[5.9708,-0.25],[5.9730,0.2],[5.9751,-0.1],[5.9772,0.1],[5.9794,-0.3],[5.9808,0.15],
[5.9833,0.2],[5.9858,-0.35],[5.9879,0.4],[5.9904,-0.3],[5.9929,0.3],[5.9950,-0.4],[5.9975,0.1],[6.0000,-0.2],[6.0021,0.35],[6.0043,-0.3],[6.0064,0.2],[6.0085,-0.1],[6.0107,0.25],[6.0128,-0.4],[6.0149,0.3],[6.0171,0.15],[6.0192,-0.1],[6.0213,0.3],[6.0235,-0.2],[6.0256,0.1],[6.0278,0.25],[6.0299,-0.1],[6.0320,0.15],[6.0342,-0.45],[6.0363,0.3],[6.0384,0.1],[6.0406,-0.2],[6.0427,0.35],[6.0448,-0.1],[6.0470,0.2],[6.0491,-0.3],[6.0512,0.1],[6.0534,0.3],[6.0555,-0.1],[6.0577,0.1],[6.0591,0.4],[6.0612,-0.2],[6.0633,-1.0],[6.0655,0.1],[6.0676,-0.2],[6.0698,-0.55]
];
const twin1cBaf = [
[5.7780,0.95],[5.7829,1.0],[5.7865,0.98],[5.7900,0.95],[5.7929,1.0],[5.8028,1.0],[5.8071,0.97],[5.8125,1.0],[5.8178,0.95],[5.8214,0.97],[5.8249,1.0],[5.8356,0.95],[5.8391,0.98],[5.8409,1.0],[5.8427,0.97],[5.8445,1.0],[5.7840,0.52],
[5.8641,0.97],[5.8641,0.22],[5.8669,0.05],[5.8712,0.02],[5.8730,0.45],[5.8765,0.5],[5.8819,0.5],[5.8872,0.52],[5.8918,0.5],[5.8996,0.5],[5.9014,0.0],[5.9032,0.12],[5.9050,0.95],[5.9096,0.02],[5.9157,0.97],[5.9317,1.0],[5.9352,1.0],[5.9359,0.35],[5.9388,1.0],[5.9406,0.02],[5.9416,0.04],[5.9459,1.0],[5.9495,0.75],[5.9523,0.02],[5.9601,1.0],[5.9655,1.0],[5.9673,1.0],[5.9690,0.98],[5.9708,0.55],[5.9726,0.5],[5.9744,0.48],[5.9744,1.0],[5.9762,1.0],[5.9780,0.45],[5.9786,0.0],[5.9797,0.02],[5.9808,1.0],
[5.9868,1.0],[5.9922,0.97],[5.9975,0.95],[6.0011,1.0],[6.0064,0.97],[6.0135,0.95],[6.0213,1.0],[6.0295,0.97],[6.0349,0.95],[6.0562,0.95],[6.0598,1.0],
[5.9886,0.4],[5.9940,0.42],[5.9975,0.52],[6.0082,0.55],[6.0242,0.52],[6.0527,0.57],[6.0580,0.55]
];

const twin2cLrr = [
[5.7775,0.2],[5.7789,-0.1],[5.7799,-0.45],[5.7817,0.25],[5.7835,0.1],[5.7852,0.3],[5.7870,0.05],[5.7887,0.35],[5.7905,0.15],[5.7923,0.2],[5.7940,0.05],[5.7958,0.3],[5.7975,0.1],[5.7993,0.25],[5.8011,0.05],[5.8028,0.3],[5.8046,0.4],[5.8063,0.1],[5.8081,0.25],[5.8099,0.05],[5.8116,0.3],[5.8134,-0.1],[5.8151,0.35],[5.8169,0.2],[5.8187,-0.15],[5.8204,0.15],[5.8222,0.05],[5.8239,0.2],[5.8257,-0.1],[5.8275,0.05],[5.8292,-0.05],[5.8310,-0.15],[5.8327,-0.1],[5.8345,-0.2],[5.8363,-0.3],[5.8373,-0.55],[5.8380,0.1],[5.8398,0.2],[5.8415,0.45],[5.8433,0.15],[5.8451,0.2],[5.8468,0.1],[5.8486,0.3],[5.8504,0.05],[5.8521,0.2],[5.8539,0.1],[5.8556,0.05],[5.8574,0.25],[5.8592,0.1],[5.8609,0.3],
[5.8655,0.1],[5.8673,0.85],[5.8690,0.2],[5.8715,0.45],[5.8750,0.15],[5.8796,0.45],[5.8820,0.3],[5.8838,-0.2],[5.8856,-0.2],[5.8880,0.1],[5.8908,0.3],[5.8944,0.1],[5.8972,0.45],[5.8989,0.3],[5.9007,-0.2],[5.9025,-0.2],[5.9042,0.8],[5.9067,0.15],[5.9092,0.05],[5.9120,0.35],[5.9155,0.95],[5.9190,0.1],[5.9218,1.05],[5.9243,0.2],[5.9261,0.5],[5.9296,0.3],[5.9313,0.15],[5.9331,0.9],[5.9349,0.65],[5.9366,0.4],[5.9384,1.3],[5.9401,0.9],[5.9419,0.3],[5.9454,0.1],[5.9490,0.55],[5.9525,0.4],[5.9560,0.2],[5.9595,0.4],[5.9630,0.4],[5.9648,0.55],[5.9665,-0.2],[5.9683,0.5],[5.9701,-0.2],[5.9718,0.45],[5.9736,-0.15],[5.9754,0.5],[5.9771,0.35],[5.9789,-0.1],
[5.9824,0.4],[5.9852,-0.2],[5.9880,0.3],[5.9901,-0.5],[5.9930,0.25],[5.9958,0.1],[5.9982,0.35],[6.0011,-0.15],[6.0035,0.3],[6.0063,0.1],[6.0088,0.4],[6.0106,-0.1],[6.0134,0.25],[6.0158,0.1],[6.0183,0.3],[6.0211,-0.3],[6.0239,0.2],[6.0264,-0.4],[6.0289,0.35],[6.0317,0.1],[6.0345,0.25],[6.0370,-0.2],[6.0394,0.3],[6.0423,0.15],[6.0451,0.35],[6.0475,-0.1],[6.0500,0.4],[6.0528,-0.15],[6.0556,0.3],[6.0581,-0.25],[6.0606,0.35],[6.0627,0.05],[6.0651,0.02]
];
const twin2cBaf = [
[5.7775,0.85],[5.7845,1.0],[5.7863,0.95],[5.7887,0.85],[5.7835,0.5],[5.8028,0.75],[5.8046,1.0],[5.8134,0.75],[5.8197,0.95],[5.8239,1.0],[5.8363,0.95],[5.8415,1.0],[5.8444,1.0],[5.8468,0.9],[5.8433,0.8],[5.8415,0.65],
[5.8648,0.72],[5.8648,0.35],[5.8651,0.22],[5.8697,0.18],[5.8722,0.38],[5.8827,0.5],[5.8831,0.3],[5.8915,0.58],[5.9004,0.55],[5.9014,0.22],[5.9021,0.02],[5.9049,0.85],[5.9095,0.2],[5.9144,0.95],[5.9155,0.33],[5.9331,0.87],[5.9342,0.6],[5.9366,0.45],[5.9394,1.0],[5.9394,0.12],[5.9401,0.18],[5.9479,0.87],[5.9486,0.85],[5.9500,0.02],[5.9648,0.98],[5.9665,0.6],[5.9676,0.78],[5.9683,0.5],[5.9704,0.85],[5.9718,0.58],[5.9725,0.92],[5.9736,0.65],[5.9754,1.0],[5.9761,0.82],[5.9648,0.22],[5.9736,0.22],[5.9746,0.02],[5.9771,0.0],[5.9789,0.0],
[5.9852,1.0],[5.9852,0.55],[5.9923,0.55],[5.9982,0.9],[6.0011,0.95],[6.0053,0.55],[6.0070,0.8],[6.0176,1.0],[6.0204,0.65],[6.0239,1.0],[6.0246,0.9],[6.0282,1.0],[6.0335,0.8],[6.0451,0.5],[6.0465,0.55],[6.0528,1.0],[6.0581,0.95]
];

// ---- layout ----
const rows = [
  { zero: 134,  title: 17,  tickPad: 10, label: 291 },
  { zero: 444,  title: 329, tickPad: 11, label: 602 },
  { zero: 769,  title: 653, tickPad: 8,  label: 924 },
  { zero: 1088, title: 959, tickPad: 12, label: 1239 }
];
const cols = [63, 448];
const plotW = 297;

const panels = [
  { title: "Father", letter: "a", row: 0, col: 0, chr: "Chr 15 (Mb)", domain: [18.206, 19.953], ticks: ticksChr15, fmt: ".1f", region: regionFather, mark: "dash",  lw: 1.3, lrr: fatherLrr, baf: fatherBaf },
  { title: "Mother",              row: 0, col: 1, chr: "Chr 15 (Mb)", domain: [18.219, 19.976], ticks: ticksChr15, fmt: ".1f", region: regionMother, mark: "dash",  lw: 1.3, lrr: motherLrr, baf: motherBaf },
  { title: "Twin 1",              row: 1, col: 0, chr: "Chr 15 (Mb)", domain: [18.206, 19.953], ticks: ticksChr15, fmt: ".1f", region: regionTwin1a, mark: "shade", lw: 1.3, lrr: twin1aLrr, baf: twin1aBaf },
  { title: "Twin 2",              row: 1, col: 1, chr: "Chr 15 (Mb)", domain: [18.219, 19.976], ticks: ticksChr15, fmt: ".1f", region: regionTwin2a, mark: "shade", lw: 1.3, lrr: twin2aLrr, baf: twin2aBaf },
  { title: "Twin 1", letter: "b", row: 2, col: 0, chr: "Chr 4 (Mb)",  domain: [188.821, 191.349], ticks: ticksChr4, fmt: ".1f", region: regionTwin1b, mark: "shade", lw: 1.7, lrr: twin1bLrr, baf: twin1bBaf },
  { title: "Twin 2",              row: 2, col: 1, chr: "Chr 4 (Mb)",  domain: [188.828, 191.377], ticks: ticksChr4, fmt: ".1f", region: regionTwin2b, mark: "dash",  lw: 1.7, lrr: twin2bLrr, baf: twin2bBaf },
  { title: "Twin 1", letter: "c", row: 3, col: 0, chr: "Chr 17 (Mb)", domain: [5.7638, 6.0798], ticks: ticksChr17, fmt: ".2f", region: regionTwin1c, mark: "dash",  lw: 1.4, lrr: twin1cLrr, baf: twin1cBaf },
  { title: "Twin 2",              row: 3, col: 1, chr: "Chr 17 (Mb)", domain: [5.7672, 6.0818], ticks: ticksChr17, fmt: ".2f", region: regionTwin2c, mark: "shade", lw: 1.4, lrr: twin2cLrr, baf: twin2cBaf }
];

const svg = d3.select("svg");

panels.forEach(p => {
  const r = rows[p.row];
  const x0 = cols[p.col];
  const x = d3.scaleLinear().domain(p.domain).range([x0, x0 + plotW]);
  const y = d3.scaleLinear().domain([-2.16, 2.16]).range([r.zero + 93, r.zero - 93]);
  const inside = d => d[0] >= p.region[0] && d[0] <= p.region[1];
  const g = svg.append("g");

  if (p.mark === "shade") {
    g.append("rect")
      .attr("x", x(p.region[0])).attr("y", y(2))
      .attr("width", x(p.region[1]) - x(p.region[0]))
      .attr("height", y(-2) - y(2))
      .attr("fill", "#e1e1e1");
  }

  g.selectAll(".lrr").data(p.lrr).enter().append("line")
    .attr("x1", d => x(d[0])).attr("x2", d => x(d[0]))
    .attr("y1", y(0)).attr("y2", d => y(d[1]))
    .attr("stroke", d => inside(d) ? "#ff0000" : "#111")
    .attr("stroke-width", p.lw);

  g.selectAll(".baf").data(p.baf).enter().append("circle")
    .attr("cx", d => x(d[0])).attr("cy", d => y(d[1]))
    .attr("r", 1.5)
    .attr("fill", d => inside(d) ? "#0000ff" : "#000");

  if (p.mark === "dash") {
    g.append("rect")
      .attr("x", x(p.region[0])).attr("y", y(2))
      .attr("width", x(p.region[1]) - x(p.region[0]))
      .attr("height", y(-2) - y(2))
      .attr("fill", "none").attr("stroke", "#444")
      .attr("stroke-width", 1.4).attr("stroke-dasharray", "4,3");
  }

  // axes (L-shaped box like R's bty="l")
  const ax = g.append("g")
    .attr("transform", `translate(0,${y.range()[0]})`)
    .call(d3.axisBottom(x).tickValues(p.ticks).tickFormat(d3.format(p.fmt))
      .tickSize(6).tickSizeOuter(0).tickPadding(r.tickPad));
  const ay = g.append("g")
    .attr("transform", `translate(${x0},0)`)
    .call(d3.axisLeft(y).tickValues(yTicks).tickFormat(d3.format("d"))
      .tickSize(6).tickSizeOuter(0).tickPadding(4));
  [ax, ay].forEach(a => {
    a.attr("font-size", 17.5);
    a.selectAll("path, line").attr("stroke", "#333").attr("stroke-width", 1.2);
    a.selectAll("text").attr("fill", "#222");
  });

  const cx = x0 + plotW / 2;
  g.append("text").attr("x", cx).attr("y", r.title)
    .attr("text-anchor", "middle").attr("font-size", 19).attr("font-weight", "bold")
    .text(p.title);
  g.append("text").attr("x", cx).attr("y", r.label)
    .attr("text-anchor", "middle").attr("font-size", 18.5)
    .text(p.chr);
  g.append("text")
    .attr("transform", `translate(${x0 - 45},${r.zero}) rotate(-90)`)
    .attr("text-anchor", "middle").attr("font-size", 18.5)
    .text("LRR & BAF");
  if (p.letter) {
    g.append("text").attr("x", 2).attr("y", r.title + 1)
      .attr("font-size", 21).attr("font-weight", "bold")
      .text(p.letter);
  }
});
</script>
</body>
</html>
